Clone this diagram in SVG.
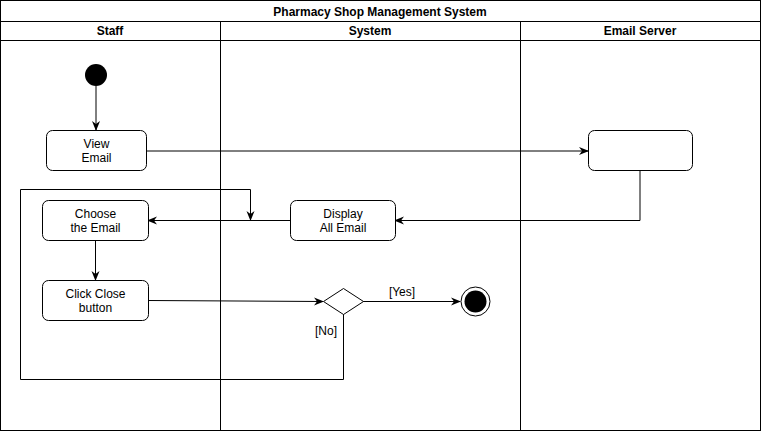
<svg xmlns="http://www.w3.org/2000/svg" width="761" height="431" viewBox="0 0 761 431">
<style>
text{font-family:"Liberation Sans",Arial,sans-serif;font-size:12px;fill:#000;text-anchor:middle}
.h{font-weight:bold}
.lane{fill:none;stroke:#000;stroke-width:1}
.node{fill:#fff;stroke:#000;stroke-width:1}
.edge{fill:none;stroke:#000;stroke-width:1}
</style>
<defs>
<marker id="arr" viewBox="0 0 10 10" refX="9" refY="5" markerWidth="10" markerHeight="10" markerUnits="userSpaceOnUse" orient="auto">
<path d="M0,1 L10,5 L0,9 L3,5 Z" fill="#000"/>
</marker>
</defs>
<rect width="761" height="431" fill="#fff"/>
<g id="pool">
<rect class="lane" x="0.5" y="0.5" width="760" height="430"/>
<line class="lane" x1="0.5" y1="21.5" x2="760.5" y2="21.5"/>
<line class="lane" x1="0.5" y1="40.5" x2="760.5" y2="40.5"/>
<line class="lane" x1="220.5" y1="21.5" x2="220.5" y2="430.5"/>
<line class="lane" x1="520.5" y1="21.5" x2="520.5" y2="430.5"/>
<text class="h" x="380" y="16">Pharmacy Shop Management System</text>
<text class="h" x="110" y="35">Staff</text>
<text class="h" x="370" y="35">System</text>
<text class="h" x="640" y="35">Email Server</text>
</g>
<g id="connectors">
<line class="edge" x1="96" y1="86" x2="96" y2="130" marker-end="url(#arr)"/>
<line class="edge" x1="146" y1="151" x2="588" y2="151" marker-end="url(#arr)"/>
<polyline class="edge" points="640,170 640,220.5 395,220.5" marker-end="url(#arr)"/>
<line class="edge" x1="291" y1="220.5" x2="148" y2="220.5" marker-end="url(#arr)"/>
<line class="edge" x1="95.5" y1="240" x2="95.5" y2="280" marker-end="url(#arr)"/>
<line class="edge" x1="148" y1="300.5" x2="323" y2="301.5" marker-end="url(#arr)"/>
<line class="edge" x1="363" y1="301.5" x2="460" y2="301.5" marker-end="url(#arr)"/>
<polyline class="edge" points="343.5,314 343.5,379.5 20.5,379.5 20.5,189.5 250.5,189.5 250.5,220" marker-end="url(#arr)"/>
<text x="402" y="296">[Yes]</text>
<text x="326" y="335">[No]</text>
</g>
<g id="start"><circle cx="96" cy="75" r="11" fill="#000"/></g>
<g id="view-email"><rect class="node" x="46.5" y="130.5" width="100" height="40" rx="6"/><text x="96.5" y="148">View</text><text x="96.5" y="162">Email</text></g>
<g id="email-server-node"><rect class="node" x="588.5" y="130.5" width="104" height="40" rx="6"/></g>
<g id="choose-email"><rect class="node" x="42.5" y="200.5" width="106" height="40" rx="6"/><text x="95.5" y="218">Choose</text><text x="95.5" y="232">the Email</text></g>
<g id="display-all"><rect class="node" x="290.5" y="200.5" width="105" height="40" rx="6"/><text x="343" y="218">Display</text><text x="343" y="232">All Email</text></g>
<g id="click-close"><rect class="node" x="42.5" y="280.5" width="106" height="40" rx="6"/><text x="95.5" y="298">Click Close</text><text x="95.5" y="312">button</text></g>
<g id="decision"><polygon class="node" points="343.5,288.5 363.5,301.5 343.5,314.5 323.5,301.5"/></g>
<g id="end"><circle cx="475.5" cy="301.5" r="14.5" fill="#fff" stroke="#000" stroke-width="1"/><circle cx="475.5" cy="301.5" r="11" fill="#000"/></g>
</svg>
